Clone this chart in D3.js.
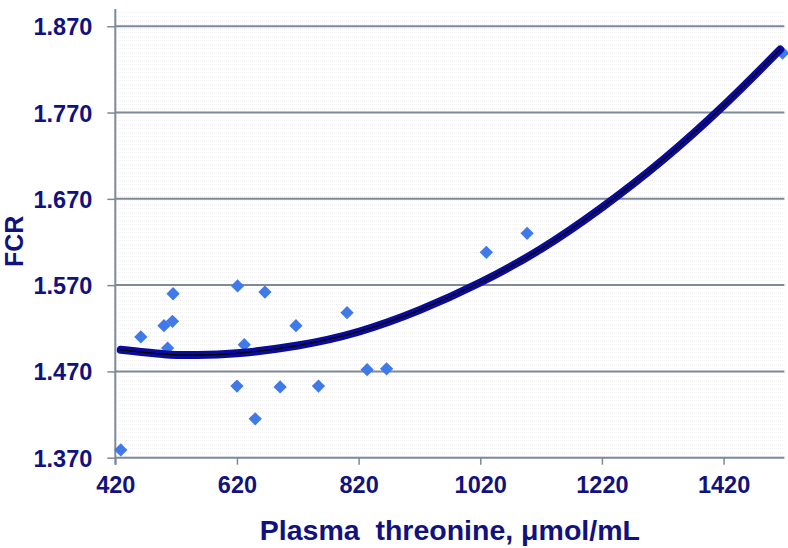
<!DOCTYPE html>
<html>
<head>
<meta charset="utf-8">
<script src="https://cdn.jsdelivr.net/npm/d3@7"></script>
<style>
  html, body { margin: 0; padding: 0; background: #ffffff; }
  svg { display: block; }
  text { font-family: "Liberation Sans", Arial, sans-serif; font-weight: bold; fill: #12127f; }
</style>
</head>
<body>
<svg id="chart" width="788" height="548"></svg>
<script>
// ---- data ----
const threonine = [429, 462, 500, 506, 514, 515, 620, 621, 632, 650, 666, 691, 717, 754, 801, 834, 866, 1030, 1097, 1517];
const fcr       = [1.379, 1.510, 1.523, 1.497, 1.528, 1.560, 1.453, 1.569, 1.501, 1.415, 1.562, 1.452, 1.523, 1.453, 1.538, 1.472, 1.473, 1.608, 1.630, 1.839];

// polynomial trend line
const trendX = [429, 500, 554, 620, 720, 820, 920, 1020, 1120, 1220, 1320, 1420, 1513];
const trendY = [1.495, 1.490, 1.489, 1.491, 1.500, 1.516, 1.541, 1.573, 1.612, 1.660, 1.715, 1.778, 1.843];

const xTicks = [420, 620, 820, 1020, 1220, 1420];
const yTicks = [1.370, 1.470, 1.570, 1.670, 1.770, 1.870];

const xTitle = "Plasma\u00a0 threonine, \u03bcmol/mL";
const yTitle = "FCR";

// ---- layout ----
const svg = d3.select("#chart");
const mLeft = 115.3, mRight = 784.4, mTop = 9, mBottom = 457.7;

const x = d3.scaleLinear().domain([420, 1520]).range([mLeft, mRight]);
const y = d3.scaleLinear().domain([1.37, 1.89]).range([mBottom, mTop]);

// dotted background texture
const defs = svg.append("defs");
const pat = defs.append("pattern").attr("id", "dots")
  .attr("patternUnits", "userSpaceOnUse").attr("width", 2).attr("height", 4);
pat.append("rect").attr("x", 0).attr("y", 0).attr("width", 1).attr("height", 1).attr("fill", "#f1f1f1");

svg.append("rect").attr("x", mLeft).attr("y", mTop)
  .attr("width", mRight - mLeft).attr("height", mBottom - mTop)
  .attr("fill", "url(#dots)");

const gridColor = "#7d8a97";

// horizontal gridlines
svg.append("g").selectAll("line").data(yTicks).join("line")
  .attr("x1", mLeft).attr("x2", mRight)
  .attr("y1", d => y(d)).attr("y2", d => y(d))
  .attr("stroke", gridColor).attr("stroke-width", 2);

// y axis
const yAxis = d3.axisLeft(y).tickValues(yTicks).tickFormat(d3.format(".3f"))
  .tickSize(8).tickPadding(15);
const gy = svg.append("g").attr("transform", `translate(${mLeft},0)`).call(yAxis);
gy.select(".domain").attr("stroke", gridColor).attr("stroke-width", 2)
  .attr("d", `M0,${mBottom + 7}V${mTop}`);
gy.selectAll(".tick line").attr("stroke", gridColor).attr("stroke-width", 1.5);
gy.selectAll(".tick text").attr("font-size", 23.5).attr("fill", "#12127f")
  .attr("font-family", "'Liberation Sans', Arial, sans-serif").attr("font-weight", "bold")
  .attr("dy", "0.36em");

// x axis
const xAxis = d3.axisBottom(x).tickValues(xTicks).tickFormat(d3.format("d"))
  .tickSize(7).tickPadding(12);
const gx = svg.append("g").attr("transform", `translate(0,${mBottom})`).call(xAxis);
gx.select(".domain").remove();
gx.selectAll(".tick line").attr("stroke", gridColor).attr("stroke-width", 1.5);
gx.selectAll(".tick text").attr("font-size", 23.5).attr("fill", "#12127f")
  .attr("font-family", "'Liberation Sans', Arial, sans-serif").attr("font-weight", "bold");

// points
const pts = threonine.map((t, i) => ({ x: t, y: fcr[i] }));
const sym = d3.symbol(d3.symbolSquare, 88);
svg.append("g").selectAll("path").data(pts).join("path")
  .attr("d", sym)
  .attr("transform", d => `translate(${x(d.x)},${y(d.y)}) rotate(45)`)
  .attr("fill", "#4079e8");

// trend line
const trend = trendX.map((t, i) => [x(t), y(trendY[i])]);
const line = d3.line().curve(d3.curveNatural);
svg.append("path").attr("d", line(trend)).attr("fill", "none")
  .attr("stroke", "#0a0a9c").attr("stroke-width", 8).attr("stroke-linecap", "round");
svg.append("path").attr("d", line(trend)).attr("fill", "none")
  .attr("stroke", "#000000").attr("stroke-width", 1.3).attr("stroke-linecap", "round");

// titles
svg.append("text").attr("x", (mLeft + mRight) / 2).attr("y", 540)
  .attr("text-anchor", "middle").attr("font-size", 28.5).text(xTitle);
svg.append("text").attr("transform", `translate(23,${(mTop + mBottom) / 2 + 8}) rotate(-90)`)
  .attr("text-anchor", "middle").attr("font-size", 25).text(yTitle);
</script>
</body>
</html>
